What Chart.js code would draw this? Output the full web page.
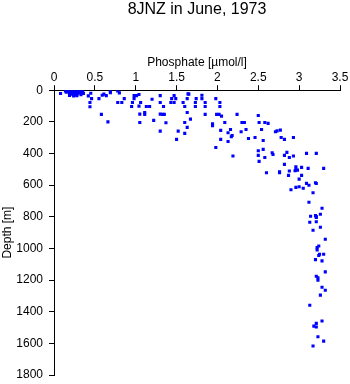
<!DOCTYPE html>
<html>
<head>
<meta charset="utf-8">
<script src="https://cdn.jsdelivr.net/npm/chart.js@4/dist/chart.umd.min.js"></script>
<style>
	html, body { margin: 0; padding: 0; background: #fff; }
	#wrap { width: 350px; height: 384px; }
</style>
</head>
<body>
<div id="wrap"><canvas id="chart"></canvas></div>
<script>
// phosphate [umol/l] and depth [m], one entry per sample
const phosphate = [
	0.08, 0.14, 0.15, 0.17, 0.18, 0.19, 0.20, 0.21, 0.22, 0.23, 0.24, 0.25, 0.26, 0.27, 0.28,
	0.29, 0.30, 0.31, 0.32, 0.33, 0.34, 0.35, 0.36, 0.28, 0.24, 0.19,
	0.42, 0.45, 0.46, 0.44, 0.44, 0.55, 0.58, 0.59, 0.61, 0.64, 0.69, 0.69, 0.66, 0.78, 0.80,
	0.78, 0.83, 0.86, 0.98, 1.01, 1.04, 0.98, 0.96, 0.95, 1.04, 1.06, 1.05, 1.05, 1.11, 1.11,
	1.13, 1.17, 1.20, 1.22, 1.30, 1.30, 1.34, 1.30, 1.33, 1.35, 1.30, 1.37, 1.43, 1.44, 1.47,
	1.47, 1.49, 1.52, 1.50, 1.58, 1.60, 1.63, 1.65, 1.63, 1.67, 1.60, 1.60, 1.63, 1.73, 1.74,
	1.73, 1.64, 1.81, 1.81, 1.85, 1.85, 1.85, 1.98, 2.03, 2.03, 1.99, 2.02, 2.05, 1.94, 1.94,
	2.04, 2.09, 2.16, 2.13, 2.18, 2.17, 2.04, 2.13, 1.98, 2.19, 2.24, 2.29, 2.30, 2.33, 2.35,
	2.38, 2.46, 2.50, 2.51, 2.54, 2.56, 2.58, 2.62, 2.50, 2.56, 2.50, 2.58, 2.51, 2.60, 2.67,
	2.68, 2.71, 2.73, 2.77, 2.78, 2.82, 2.76, 2.76, 2.82, 2.82, 2.85, 2.88, 2.88, 2.87, 2.90,
	2.93, 2.93, 2.96, 2.96, 2.95, 2.98, 3.00, 2.96, 3.00, 3.03, 3.03, 3.05, 3.09, 3.11, 3.09,
	3.12, 3.17, 3.20, 3.21, 3.21, 3.30, 3.12, 3.28,
	3.14, 3.20, 3.21, 3.26, 3.21, 3.13, 3.21, 3.26, 3.17, 3.32, 3.22, 3.24, 3.22, 3.25, 3.30,
	3.24, 3.20, 3.28, 3.32, 3.21, 3.23, 3.23, 3.28, 3.32, 3.26, 3.13, 3.28, 3.21, 3.18, 3.21,
	3.23, 3.30, 3.17
];
const depth = [
	21, 5, 12, 3, 10, 20, 6, 15, 25, 2, 10, 18, 30, 5, 14,
	22, 8, 3, 16, 28, 10, 4, 20, 35, 36, 33,
	36, 19, 53, 78, 105, 53, 153, 32, 25, 34, 6, 15, 200, 4, 17,
	78, 78, 53, 34, 34, 27, 53, 78, 103, 101, 78, 151, 204, 141, 153,
	103, 103, 57, 191, 34, 78, 103, 151, 153, 153, 259, 206, 78, 53, 34,
	78, 53, 259, 311, 78, 103, 53, 25, 141, 183, 204, 273, 235, 78, 53,
	103, 23, 32, 53, 78, 103, 153, 53, 78, 103, 153, 153, 164, 212, 225,
	254, 204, 248, 269, 286, 294, 311, 324, 362, 416, 153, 263, 204, 204, 248,
	305, 299, 160, 204, 248, 318, 204, 210, 383, 374, 412, 425, 450, 522, 395,
	406, 263, 257, 252, 299, 311, 522, 516, 412, 469, 393, 425, 511, 538, 629,
	299, 416, 484, 499, 509, 505, 562, 614, 610, 488, 538, 620, 399, 494, 589,
	601, 648, 585, 590, 399, 494, 708, 746,
	797, 793, 799, 784, 805, 835, 831, 866, 885, 942, 995, 985, 1010, 1037, 1037,
	1045, 1071, 1079, 1148, 1176, 1185, 1201, 1245, 1264, 1295, 1359, 1459, 1474, 1491, 1497,
	1558, 1586, 1617
];
const phosphateTicks = [0, 0.5, 1, 1.5, 2, 2.5, 3, 3.5];
const depthTicks = [0, 200, 400, 600, 800, 1000, 1200, 1400, 1600, 1800];

const points = phosphate.map((p, i) => ({ x: p, y: depth[i] }));

const font = { family: "Liberation Sans, Arial, sans-serif", size: 12 };

new Chart(document.getElementById("chart"), {
	type: "scatter",
	data: {
		datasets: [
			{
				data: points,
				pointStyle: "rect",
				pointRadius: 2.2,
				pointHoverRadius: 2.2,
				borderWidth: 0,
				backgroundColor: "#0000ff",
			},
		],
	},
	options: {
		responsive: true,
		maintainAspectRatio: false,
		animation: false,
		layout: { padding: { left: 0, right: 10, top: 0, bottom: 9 } },
		plugins: {
			legend: { display: false },
			tooltip: { enabled: false },
			title: {
				display: true,
				fullSize: false,
				text: "8JNZ in June, 1973",
				color: "#000",
				font: { family: font.family, size: 16, weight: "normal" },
				padding: { top: 0, bottom: 3 },
			},
		},
		scales: {
			x: {
				type: "linear",
				position: "top",
				min: 0,
				max: 3.5,
				afterBuildTicks: (scale) => {
					scale.ticks = phosphateTicks.map((v) => ({ value: v }));
				},
				afterFit: (scale) => {
					scale.height = 68;
				},
				ticks: {
					color: "#000",
					font: font,
					padding: 0,
					maxRotation: 0,
					callback: (v) => String(v),
				},
				grid: {
					drawOnChartArea: false,
					tickLength: 5,
					color: "#000",
				},
				border: { color: "#000" },
				title: {
					display: true,
					text: "Phosphate [\u00b5mol/l]",
					color: "#000",
					font: font,
					padding: { top: 33, bottom: 2 },
				},
			},
			y: {
				type: "linear",
				reverse: true,
				min: 0,
				max: 1800,
				afterBuildTicks: (scale) => {
					scale.ticks = depthTicks.map((v) => ({ value: v }));
				},
				afterFit: (scale) => {
					scale.width = 54;
					scale.paddingTop = 0;
					scale.paddingBottom = 0;
				},
				ticks: {
					color: "#000",
					font: font,
					padding: 6,
					callback: (v) => String(v),
				},
				grid: {
					drawOnChartArea: false,
					tickLength: 5,
					color: "#000",
				},
				border: { color: "#000" },
				title: {
					display: true,
					text: "Depth [m]",
					color: "#000",
					font: font,
					padding: 0,
				},
			},
		},
	},
});
</script>
</body>
</html>
